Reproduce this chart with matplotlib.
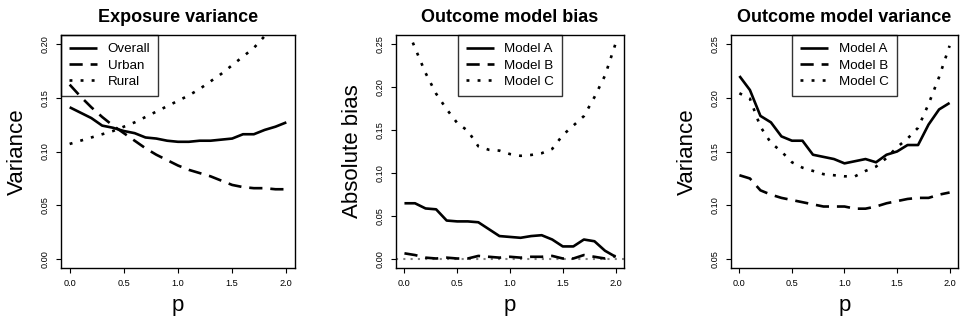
import matplotlib
matplotlib.use("Agg")
import matplotlib.pyplot as plt

p = [0.0, 0.1, 0.2, 0.3, 0.4, 0.5, 0.6, 0.7, 0.8, 0.9, 1.0,
     1.1, 1.2, 1.3, 1.4, 1.5, 1.6, 1.7, 1.8, 1.9, 2.0]

# Exposure variance
exp_overall = [0.141, 0.136, 0.131, 0.124, 0.122, 0.119, 0.117, 0.113, 0.112, 0.110, 0.109,
               0.109, 0.110, 0.110, 0.111, 0.112, 0.116, 0.116, 0.120, 0.123, 0.127]
exp_urban = [0.162, 0.151, 0.141, 0.132, 0.124, 0.117, 0.110, 0.103, 0.097, 0.092, 0.087,
             0.083, 0.080, 0.077, 0.073, 0.069, 0.067, 0.066, 0.066, 0.065, 0.065]
exp_rural = [0.107, 0.110, 0.113, 0.116, 0.119, 0.123, 0.127, 0.132, 0.137, 0.142, 0.147,
             0.152, 0.158, 0.165, 0.172, 0.180, 0.188, 0.196, 0.207, 0.218, 0.230]

# Outcome model bias
bias_a = [0.065, 0.065, 0.059, 0.058, 0.045, 0.044, 0.044, 0.043, 0.035, 0.027, 0.026,
          0.025, 0.027, 0.028, 0.023, 0.015, 0.015, 0.023, 0.021, 0.010, 0.003]
bias_b = [0.007, 0.005, 0.002, 0.001, 0.002, 0.001, 0.001, 0.004, 0.003, 0.002, 0.003,
          0.002, 0.003, 0.003, 0.004, 0.001, 0.001, 0.005, 0.003, 0.001, 0.004]
bias_c = [0.275, 0.245, 0.216, 0.192, 0.174, 0.158, 0.149, 0.131, 0.127, 0.126, 0.122,
          0.120, 0.121, 0.123, 0.128, 0.144, 0.155, 0.166, 0.188, 0.213, 0.250]

# Outcome model variance
var_a = [0.220, 0.207, 0.183, 0.177, 0.164, 0.160, 0.160, 0.147, 0.145, 0.143, 0.139,
         0.141, 0.143, 0.140, 0.147, 0.150, 0.156, 0.156, 0.175, 0.189, 0.195]
var_b = [0.128, 0.125, 0.114, 0.110, 0.107, 0.105, 0.103, 0.101, 0.099, 0.099, 0.099,
         0.097, 0.097, 0.099, 0.102, 0.104, 0.106, 0.107, 0.107, 0.110, 0.112]
var_c = [0.204, 0.199, 0.173, 0.158, 0.150, 0.140, 0.135, 0.132, 0.129, 0.128, 0.127,
         0.127, 0.132, 0.136, 0.144, 0.154, 0.162, 0.172, 0.194, 0.219, 0.248]

panels = [
    ("Exposure variance", "Variance", (0.0, 0.20), [0.0, 0.05, 0.10, 0.15, 0.20],
     [exp_overall, exp_urban, exp_rural], ["Overall", "Urban", "Rural"], "upper left"),
    ("Outcome model bias", "Absolute bias", (0.0, 0.25), [0.0, 0.05, 0.10, 0.15, 0.20, 0.25],
     [bias_a, bias_b, bias_c], ["Model A", "Model B", "Model C"], "upper center"),
    ("Outcome model variance", "Variance", (0.05, 0.25), [0.05, 0.10, 0.15, 0.20, 0.25],
     [var_a, var_b, var_c], ["Model A", "Model B", "Model C"], "upper center"),
]

plt.rcParams['font.family'] = ['Liberation Sans', 'DejaVu Sans']

W, H = 962, 322
fig = plt.figure(figsize=(W / 100, H / 100), dpi=100)

# pixel boxes (left, right) of each plot region, shared top/bottom
lefts = [61, 396, 731]
rights = [295, 624, 958]
top, bottom = 35, 268

styles = [dict(linestyle="-"),
          dict(dashes=(5, 3)),
          dict(dashes=(1.1, 3.1))]

for (title, ylab, (y0, y1), yt, series, labels, loc), l, r in zip(panels, lefts, rights):
    ax = fig.add_axes([l / W, 1 - bottom / H, (r - l) / W, (bottom - top) / H])
    for vals, lab, st in zip(series, labels, styles):
        ax.plot(p, vals, color="black", lw=1.9, label=lab, solid_capstyle="butt",
                dash_capstyle="butt", **st)
    if title == "Outcome model bias":
        ax.axhline(0, color="#808080", lw=1.5, dashes=(1, 2.5), zorder=0)

    ax.set_xlim(-0.08, 2.08)
    pad = (y1 - y0) * 0.04
    ax.set_ylim(y0 - pad, y1 + pad)
    ax.set_xticks([0.0, 0.5, 1.0, 1.5, 2.0])
    ax.set_xticklabels(["0.0", "0.5", "1.0", "1.5", "2.0"])
    ax.set_yticks(yt)
    ax.set_yticklabels(["%.2f" % v for v in yt], rotation=90, va="center")
    ax.tick_params(labelsize=6.6, length=3.6, width=0.8, pad=4.5, colors="black")
    ax.tick_params(axis="x", pad=4.5)
    for s in ax.spines.values():
        s.set_linewidth(1.0)

    ax.set_title(title, fontsize=13, fontweight="bold", pad=9)
    ax.set_xlabel("p", fontsize=16)
    ax.xaxis.set_label_coords(0.5, -(305 - bottom) / (bottom - top))
    ax.xaxis.label.set_va("center")
    ax.set_ylabel(ylab, fontsize=16)
    ax.yaxis.set_label_coords(-44 / (r - l), 0.5)
    ax.yaxis.label.set_va("center")

    # legend box is see-through, like R's default
    leg = ax.legend(loc=loc, fontsize=9.6, frameon=True, fancybox=False,
                    borderaxespad=0, handlelength=2.1, handletextpad=0.8,
                    labelspacing=0.3, borderpad=0.6)
    leg.get_frame().set_edgecolor("black")
    leg.get_frame().set_linewidth(1.0)
    leg.get_frame().set_facecolor("none")

fig.savefig("out.png", dpi=100)
